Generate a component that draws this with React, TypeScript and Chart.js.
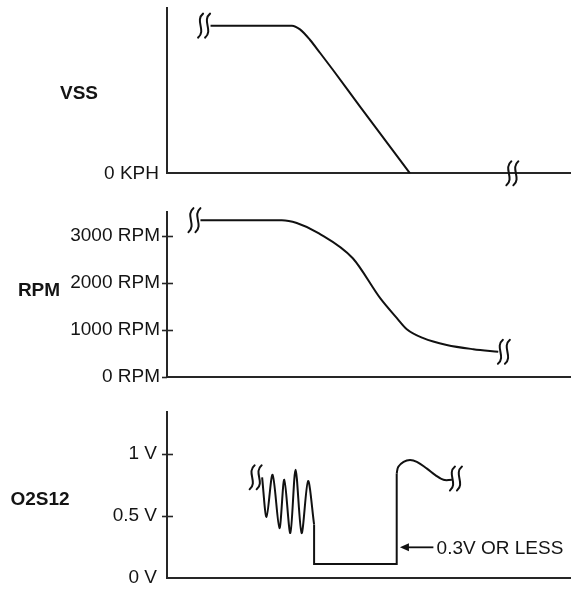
import React, { useEffect, useRef } from 'react';
import { Chart, registerables } from 'chart.js';

Chart.register(...registerables);

// ---------- shared time axis (arbitrary units) ----------
const TIME_MIN = 0;
const TIME_MAX = 100;

// ---------- VSS panel ----------
const VSS_MAX = 100;
const VSS_TIME = [10.8, 31.0, 33.0, 35.5, 38.0, 41.2, 47.9, 60.3];
const VSS_KPH = [89.5, 89.5, 87.2, 80.8, 72.9, 62.6, 40.4, 0];
const VSS_TICKS = [0];
const VSS_TICK_LABELS = ['0 KPH'];
const VSS_TICK_MARKS: number[] = [];
const VSS_BREAK_TIME = [9.2, 85.7];
const VSS_BREAK_VALUE = [89.5, 0];

// ---------- RPM panel ----------
const RPM_MAX = 3510;
const RPM_TIME = [8.3, 28.5, 32.2, 37.7, 46.1, 52.9, 57.0, 59.5, 63.6, 69.4, 76.0, 82.2];
const RPM_VALUE = [3330, 3330, 3270, 3050, 2520, 1670, 1250, 1010, 820, 675, 585, 530];
const RPM_TICKS = [0, 1000, 2000, 3000];
const RPM_TICK_LABELS = ['0 RPM', '1000 RPM', '2000 RPM', '3000 RPM'];
const RPM_TICK_MARKS = [0, 1000, 2000, 3000];
const RPM_BREAK_TIME = [6.8, 83.6];
const RPM_BREAK_VALUE = [3330, 530];

// ---------- O2S12 panel ----------
const O2_MAX = 1.339;
const O2_WAVE_TIME = [23.6, 24.7, 26.2, 27.9, 29.1, 30.6, 31.9, 33.4, 35.0, 36.5];
const O2_WAVE_V = [0.81, 0.49, 0.83, 0.40, 0.79, 0.36, 0.87, 0.36, 0.78, 0.43];
const O2_LEAN_TIME = [36.5, 36.5, 57.0, 57.0];
const O2_LEAN_V = [0.43, 0.11, 0.11, 0.84];
const O2_RICH_TIME = [57.0, 57.4, 58.7, 60.3, 62.0, 64.5, 66.5, 68.6, 70.7];
const O2_RICH_V = [0.84, 0.895, 0.935, 0.95, 0.935, 0.88, 0.83, 0.79, 0.79];
const O2_TICKS = [0, 0.5, 1];
const O2_TICK_LABELS = ['0 V', '0.5 V', '1 V'];
const O2_TICK_MARKS = [0.5, 1];
const O2_BREAK_TIME = [22.0, 71.7];
const O2_BREAK_VALUE = [0.81, 0.8];
const NOTE_TEXT = '0.3V OR LESS';
const NOTE_V = 0.245;
const NOTE_ARROW_TIP = 57.8;
const NOTE_ARROW_TAIL = 66.1;
const NOTE_TEXT_TIME = 66.9;

const PANEL_TITLES = ['VSS', 'RPM', 'O2S12'];

// ---------- styling ----------
const LINE_COLOR = '#111111';
const AXIS_COLOR = '#262626';
const TEXT_COLOR = '#141414';
const FONT_FAMILY = '"Liberation Sans", Arial, Helvetica, sans-serif';
const FONT_SIZE = 19;

function lineDataset(xs: number[], ys: number[], tension: number, mode: string = 'default') {
  return {
    data: xs.map((x, i) => ({ x, y: ys[i] })),
    borderColor: LINE_COLOR,
    borderWidth: 2,
    pointRadius: 0,
    fill: false,
    tension,
    cubicInterpolationMode: mode,
  };
}

function drawBreakSymbol(ctx: CanvasRenderingContext2D, cx: number, cy: number) {
  ctx.save();
  ctx.strokeStyle = LINE_COLOR;
  ctx.lineWidth = 2;
  ctx.lineCap = 'round';
  for (const dx of [-3.5, 3.5]) {
    const x = cx + dx;
    ctx.beginPath();
    ctx.moveTo(x + 2.5, cy - 12);
    ctx.bezierCurveTo(x - 6, cy - 5, x + 6, cy + 5, x - 2.5, cy + 12);
    ctx.stroke();
  }
  ctx.restore();
}

function decorPlugin(breakTimes: number[], breakValues: number[], tickMarks: number[], extra?: (chart: any) => void) {
  return {
    id: 'decor',
    afterDatasetsDraw(chart: any) {
      const ctx: CanvasRenderingContext2D = chart.ctx;
      const xs = chart.scales.x;
      const ys = chart.scales.y;
      const left = chart.chartArea.left;
      ctx.save();
      ctx.strokeStyle = AXIS_COLOR;
      ctx.lineWidth = 1.6;
      tickMarks.forEach((v) => {
        const py = Math.round(ys.getPixelForValue(v)) + 0.5;
        ctx.beginPath();
        ctx.moveTo(left - 5, py);
        ctx.lineTo(left + (v === 0 ? 0 : 6), py);
        ctx.stroke();
      });
      ctx.restore();
      breakTimes.forEach((t, i) => {
        drawBreakSymbol(ctx, xs.getPixelForValue(t), ys.getPixelForValue(breakValues[i]));
      });
      if (extra) extra(chart);
    },
  };
}

function noteArrow(chart: any) {
  const ctx: CanvasRenderingContext2D = chart.ctx;
  const xs = chart.scales.x;
  const ys = chart.scales.y;
  const py = ys.getPixelForValue(NOTE_V);
  const tip = xs.getPixelForValue(NOTE_ARROW_TIP);
  const tail = xs.getPixelForValue(NOTE_ARROW_TAIL);
  ctx.save();
  ctx.strokeStyle = LINE_COLOR;
  ctx.fillStyle = LINE_COLOR;
  ctx.lineWidth = 1.8;
  ctx.beginPath();
  ctx.moveTo(tip + 6, py);
  ctx.lineTo(tail, py);
  ctx.stroke();
  ctx.beginPath();
  ctx.moveTo(tip, py);
  ctx.lineTo(tip + 9, py - 4);
  ctx.lineTo(tip + 9, py + 4);
  ctx.closePath();
  ctx.fill();
  ctx.font = `${FONT_SIZE}px ${FONT_FAMILY}`;
  ctx.textAlign = 'left';
  ctx.textBaseline = 'middle';
  ctx.fillStyle = TEXT_COLOR;
  ctx.fillText(NOTE_TEXT, xs.getPixelForValue(NOTE_TEXT_TIME), py + 1);
  ctx.restore();
}

function makeConfig(p: {
  datasets: any[];
  yMax: number;
  ticks: number[];
  labels: string[];
  labelPad: number;
  padTop: number;
  padBottom: number;
  plugin: any;
}) {
  return {
    type: 'line',
    data: { datasets: p.datasets },
    options: {
      animation: false,
      responsive: false,
      maintainAspectRatio: false,
      events: [],
      layout: { padding: { left: 0, right: 9, top: p.padTop, bottom: p.padBottom } },
      plugins: { legend: { display: false }, tooltip: { enabled: false } },
      scales: {
        x: {
          type: 'linear',
          min: TIME_MIN,
          max: TIME_MAX,
          ticks: { display: false },
          grid: { display: true, drawOnChartArea: false, drawTicks: false },
          border: { display: true, color: AXIS_COLOR, width: 2 },
          afterFit: (s: any) => {
            s.height = 0;
            s.paddingLeft = 0;
            s.paddingRight = 0;
          },
        },
        y: {
          type: 'linear',
          min: 0,
          max: p.yMax,
          afterBuildTicks: (s: any) => {
            s.ticks = p.ticks.map((v) => ({ value: v }));
          },
          ticks: {
            autoSkip: false,
            padding: p.labelPad,
            color: TEXT_COLOR,
            font: { family: FONT_FAMILY, size: FONT_SIZE },
            callback: (_v: any, i: number) => p.labels[i] ?? '',
          },
          grid: { display: true, drawOnChartArea: false, drawTicks: false },
          border: { display: true, color: AXIS_COLOR, width: 2 },
          afterFit: (s: any) => {
            s.width = 167;
            s.paddingTop = 0;
            s.paddingBottom = 0;
          },
        },
      },
    },
    plugins: [p.plugin],
  } as any;
}

export default function App() {
  const c1 = useRef<HTMLCanvasElement>(null);
  const c2 = useRef<HTMLCanvasElement>(null);
  const c3 = useRef<HTMLCanvasElement>(null);

  useEffect(() => {
    const charts: Chart[] = [];
    if (c1.current) {
      charts.push(
        new Chart(
          c1.current,
          makeConfig({
            datasets: [lineDataset(VSS_TIME, VSS_KPH, 0, 'monotone')],
            yMax: VSS_MAX,
            ticks: VSS_TICKS,
            labels: VSS_TICK_LABELS,
            labelPad: 8,
            padTop: 8.3,
            padBottom: 195 - 173.3,
            plugin: decorPlugin(VSS_BREAK_TIME, VSS_BREAK_VALUE, VSS_TICK_MARKS),
          })
        )
      );
    }
    if (c2.current) {
      charts.push(
        new Chart(
          c2.current,
          makeConfig({
            datasets: [lineDataset(RPM_TIME, RPM_VALUE, 0, 'monotone')],
            yMax: RPM_MAX,
            ticks: RPM_TICKS,
            labels: RPM_TICK_LABELS,
            labelPad: 7,
            padTop: 211.7 - 195,
            padBottom: 395 - 376.7,
            plugin: decorPlugin(RPM_BREAK_TIME, RPM_BREAK_VALUE, RPM_TICK_MARKS),
          })
        )
      );
    }
    if (c3.current) {
      charts.push(
        new Chart(
          c3.current,
          makeConfig({
            datasets: [
              lineDataset(O2_WAVE_TIME, O2_WAVE_V, 0.3),
              lineDataset(O2_LEAN_TIME, O2_LEAN_V, 0),
              lineDataset(O2_RICH_TIME, O2_RICH_V, 0.4),
            ],
            yMax: O2_MAX,
            ticks: O2_TICKS,
            labels: O2_TICK_LABELS,
            labelPad: 10,
            padTop: 411.7 - 395,
            padBottom: 596 - 577.7,
            plugin: decorPlugin(O2_BREAK_TIME, O2_BREAK_VALUE, O2_TICK_MARKS, noteArrow),
          })
        )
      );
    }
    return () => charts.forEach((c) => c.destroy());
  }, []);

  const titleStyle = (left: number, top: number): React.CSSProperties => ({
    position: 'absolute',
    left,
    top,
    transform: 'translate(-50%, -50%)',
    font: `bold ${FONT_SIZE}px ${FONT_FAMILY}`,
    lineHeight: 1,
    color: TEXT_COLOR,
    whiteSpace: 'nowrap',
  });

  return (
    <div style={{ position: 'absolute', left: 0, top: 0, width: 579, height: 596, background: '#fff' }}>
      <canvas ref={c1} width={579} height={195} style={{ position: 'absolute', left: 0, top: 0 }} />
      <canvas ref={c2} width={579} height={200} style={{ position: 'absolute', left: 0, top: 195 }} />
      <canvas ref={c3} width={579} height={201} style={{ position: 'absolute', left: 0, top: 395 }} />
      <div style={titleStyle(79, 92)}>{PANEL_TITLES[0]}</div>
      <div style={titleStyle(39, 289)}>{PANEL_TITLES[1]}</div>
      <div style={titleStyle(40, 498)}>{PANEL_TITLES[2]}</div>
    </div>
  );
}
